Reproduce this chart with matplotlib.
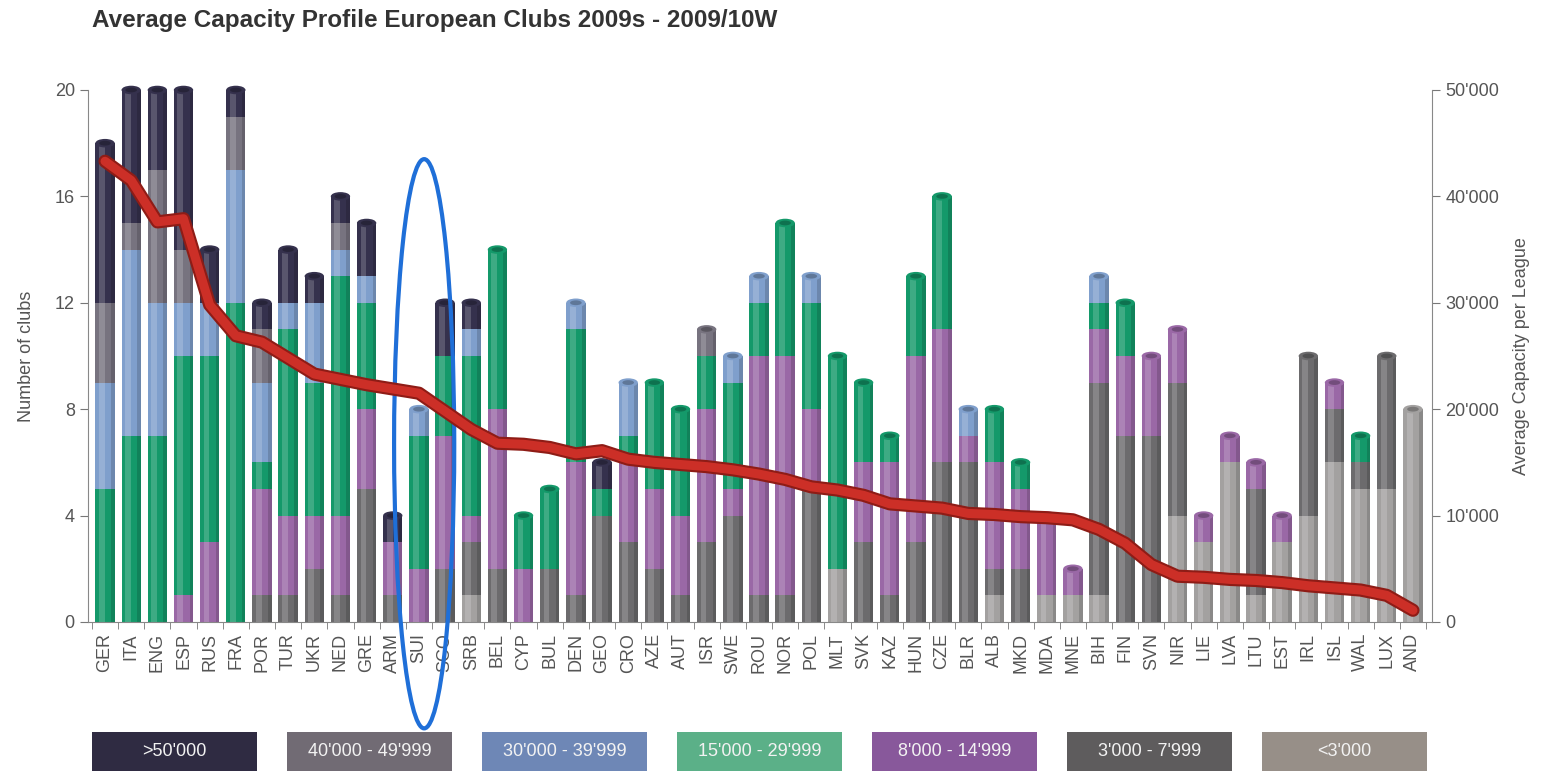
import matplotlib
matplotlib.use("Agg")
import matplotlib.pyplot as plt
import matplotlib.patheffects as pe
from matplotlib.patches import Ellipse, Rectangle
import numpy as np

plt.rcParams['font.family'] = ['Liberation Sans', 'DejaVu Sans']

# Data
countries = ['GER', 'ITA', 'ENG', 'ESP', 'RUS', 'FRA', 'POR', 'TUR', 'UKR', 'NED', 'GRE', 'ARM', 'SUI',
             'SCO', 'SRB', 'BEL', 'CYP', 'BUL', 'DEN', 'GEO', 'CRO', 'AZE', 'AUT', 'ISR', 'SWE', 'ROU',
             'NOR', 'POL', 'MLT', 'SVK', 'KAZ', 'HUN', 'CZE', 'BLR', 'ALB', 'MKD', 'MDA', 'MNE', 'BIH',
             'FIN', 'SVN', 'NIR', 'LIE', 'LVA', 'LTU', 'EST', 'IRL', 'ISL', 'WAL', 'LUX', 'AND']

# clubs per capacity class (bottom to top of each stack)
clubs_lt3k =    [0, 0, 0, 0, 0, 0, 0, 0, 0, 0, 0, 0, 0, 0, 1, 0, 0, 0, 0, 0, 0, 0, 0, 0, 0, 0,
                 0, 0, 2, 0, 0, 0, 0, 0, 1, 0, 1, 1, 1, 0, 0, 4, 3, 6, 1, 3, 4, 6, 5, 5, 8]
clubs_3k_8k =   [0, 0, 0, 0, 0, 0, 1, 1, 2, 1, 5, 1, 0, 2, 2, 2, 0, 2, 1, 4, 3, 2, 1, 3, 4, 1,
                 1, 5, 0, 3, 1, 3, 6, 6, 1, 2, 0, 0, 8, 7, 7, 5, 0, 0, 4, 0, 6, 2, 1, 5, 0]
clubs_8k_15k =  [0, 0, 0, 1, 3, 0, 4, 3, 2, 3, 3, 2, 2, 5, 1, 6, 2, 0, 5, 0, 3, 3, 3, 5, 1, 9,
                 9, 3, 0, 3, 5, 7, 5, 1, 4, 3, 3, 1, 2, 3, 3, 2, 1, 1, 1, 1, 0, 1, 0, 0, 0]
clubs_15k_30k = [5, 7, 7, 9, 7, 12, 1, 7, 5, 9, 4, 0, 5, 3, 6, 6, 2, 3, 5, 1, 1, 4, 4, 2, 4, 2,
                 5, 4, 8, 3, 1, 3, 5, 0, 2, 1, 0, 0, 1, 2, 0, 0, 0, 0, 0, 0, 0, 0, 1, 0, 0]
clubs_30k_40k = [4, 7, 5, 2, 2, 5, 3, 1, 3, 1, 1, 0, 1, 0, 1, 0, 0, 0, 1, 0, 2, 0, 0, 0, 1, 1,
                 0, 1, 0, 0, 0, 0, 0, 1, 0, 0, 0, 0, 1, 0, 0, 0, 0, 0, 0, 0, 0, 0, 0, 0, 0]
clubs_40k_50k = [3, 1, 5, 2, 0, 2, 2, 0, 0, 1, 0, 0, 0, 0, 0, 0, 0, 0, 0, 0, 0, 0, 0, 1, 0, 0,
                 0, 0, 0, 0, 0, 0, 0, 0, 0, 0, 0, 0, 0, 0, 0, 0, 0, 0, 0, 0, 0, 0, 0, 0, 0]
clubs_gt50k =   [6, 5, 3, 6, 2, 1, 1, 2, 1, 1, 2, 1, 0, 2, 1, 0, 0, 0, 0, 1, 0, 0, 0, 0, 0, 0,
                 0, 0, 0, 0, 0, 0, 0, 0, 0, 0, 0, 0, 0, 0, 0, 0, 0, 0, 0, 0, 0, 0, 0, 0, 0]

avg_capacity = [43300, 41500, 37600, 37900, 29800, 26900, 26300, 24800, 23300, 22800, 22300, 21900, 21500,
                19800, 18100, 16800, 16700, 16400, 15800, 16100, 15300, 15000, 14800, 14600, 14300, 13900,
                13400, 12700, 12400, 11900, 11100, 10900, 10700, 10200, 10100, 9900, 9800, 9600, 8700,
                7400, 5400, 4300, 4200, 4000, 3900, 3700, 3400, 3200, 3000, 2500, 1100]

class_labels = ["<3'000", "3'000 - 7'999", "8'000 - 14'999", "15'000 - 29'999",
                "30'000 - 39'999", "40'000 - 49'999", ">50'000"]
bar_colors = ['#a3a1a0', '#6c6b6d', '#9a68a6', '#14996a', '#7f9fcc', '#77737f', '#35314d']
legend_colors = ['#978f88', '#5e5c5d', '#88589b', '#5bb088', '#6e87b6', '#716b74', '#2f2b42']

series = [clubs_lt3k, clubs_3k_8k, clubs_8k_15k, clubs_15k_30k, clubs_30k_40k, clubs_40k_50k, clubs_gt50k]

x = np.arange(len(countries))
width = 0.74

fig = plt.figure(figsize=(15.47, 7.71), dpi=100)
ax = fig.add_axes([0.0569, 0.1933, 0.8688, 0.690])

bottom = np.zeros(len(countries))
top_color = [None] * len(countries)
for vals, col in zip(series, bar_colors):
    vals = np.array(vals, dtype=float)
    ax.bar(x, vals, width, bottom=bottom, color=col, edgecolor='none', zorder=2)
    for i in range(len(countries)):
        if vals[i] > 0:
            top_color[i] = col
    bottom += vals
totals = bottom

# cylinder shading: highlight stripe, dark rim and top caps
ax.bar(x - 0.12, totals, 0.22, color='white', alpha=0.18, edgecolor='none', zorder=3)
ax.bar(x + 0.30, totals, 0.14, color='black', alpha=0.15, edgecolor='none', zorder=3)
for i in range(len(countries)):
    cap = Ellipse((x[i], totals[i]), width, 0.32, facecolor=top_color[i], edgecolor='none',
                  zorder=4, clip_on=False)
    ax.add_patch(cap)
    cap2 = Ellipse((x[i], totals[i]), width * 0.6, 0.18, facecolor='black', alpha=0.25,
                   edgecolor='none', zorder=5, clip_on=False)
    ax.add_patch(cap2)

ax.set_xlim(-0.65, len(countries) - 0.27)
ax.set_ylim(0, 20)
ax.set_yticks([0, 4, 8, 12, 16, 20])
ax.set_xticks(x)
ax.set_xticklabels(countries, rotation=90, fontsize=13, color='#555555')
ax.set_xticks(np.arange(-0.5, len(countries), 1), minor=True)
ax.tick_params(axis='x', which='major', length=0, pad=8)
ax.tick_params(axis='x', which='minor', length=5, color='#777777')
ax.tick_params(axis='y', length=6, color='#777777', labelsize=13, labelcolor='#555555')
for s in ['top', 'right']:
    ax.spines[s].set_visible(False)
for s in ['left', 'bottom']:
    ax.spines[s].set_color('#888888')
ax.set_ylabel('Number of clubs', fontsize=13, color='#555555', labelpad=14)

ax2 = ax.twinx()
ax2.set_ylim(0, 50000)
ax2.set_yticks([0, 10000, 20000, 30000, 40000, 50000])
ax2.set_yticklabels(["0", "10'000", "20'000", "30'000", "40'000", "50'000"])
ax2.tick_params(axis='y', length=6, color='#777777', labelsize=13, labelcolor='#555555')
for s in ['top', 'left', 'bottom']:
    ax2.spines[s].set_visible(False)
ax2.spines['right'].set_color('#888888')
ax2.set_ylabel('Average Capacity per League', fontsize=13, color='#555555', labelpad=10)
ax2.plot(x, avg_capacity, color='#cc2f27', lw=6.5, solid_capstyle='round', zorder=6,
         path_effects=[pe.Stroke(linewidth=9.5, foreground='#8e1c16'), pe.Normal()])

# highlight ellipse around SUI
sui = countries.index('SUI')
ring = Ellipse((x[sui] + 0.2, 6.7), 2.3, 21.4, facecolor='none', edgecolor='#1f6fd8', lw=3,
               zorder=10, clip_on=False)
ax.add_patch(ring)

fig.text(92 / 1547, 1 - 20 / 771, 'Average Capacity Profile European Clubs 2009s - 2009/10W',
         fontsize=17.5, fontweight='bold', color='#333333', va='center', ha='left')

# legend boxes along the bottom (largest class first)
box_left = [92, 287, 482, 677, 872, 1067, 1262]
for j, k in enumerate(range(6, -1, -1)):
    x0 = box_left[j] / 1547
    w = 165 / 1547
    fig.patches.append(Rectangle((x0, -0.01), w, 0.0606, transform=fig.transFigure,
                                 facecolor=legend_colors[k], edgecolor='none'))
    fig.text(x0 + w / 2, 1 - 752 / 771, class_labels[k], fontsize=13, color='#f2f2f2',
             ha='center', va='center')

fig.savefig('out.png', dpi=100)
